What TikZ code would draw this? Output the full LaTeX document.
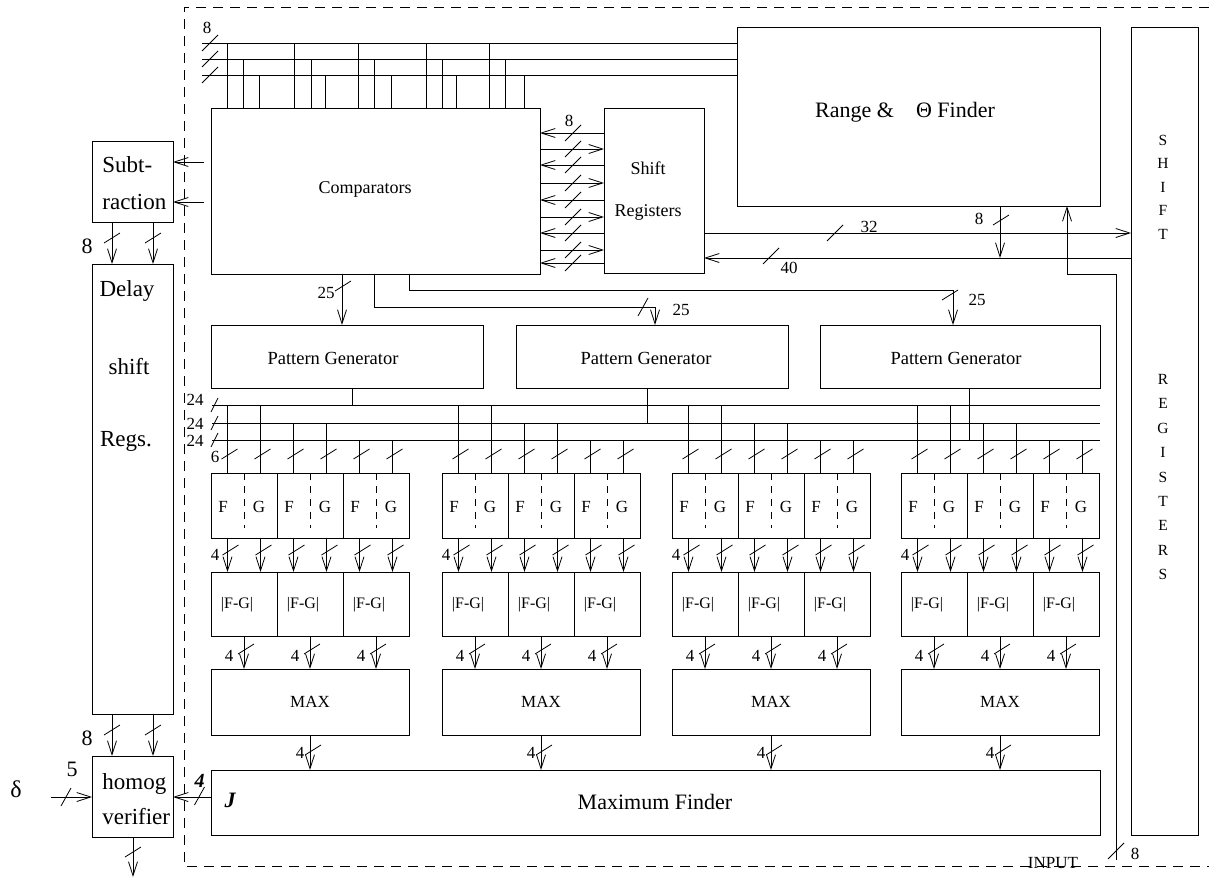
\documentclass[tikz,border=0pt]{standalone}
\usepackage{fontspec}
\setmainfont{Liberation Serif}
\usetikzlibrary{arrows.meta}
\newcommand\fs[1]{\fontsize{#1}{#1}\selectfont}
% slash on a horizontal line (45 deg)
\newcommand\hsl[2]{\draw (#1-8,#2+8) -- (#1+8,#2-8);}
% steep slash on a horizontal line
\newcommand\ssl[2]{\draw (#1-5,#2+9) -- (#1+5,#2-9);}
% slash on a vertical line
\newcommand\vsl[2]{\draw (#1-8,#2+5) -- (#1+8,#2-5);}
\newcommand\bx[5]{\node[box, minimum width={(#4)-(#2)}, minimum height={(#5)-(#3)}] (#1) at ({((#2)+(#4))/2},{((#3)+(#5))/2}) {};}
\begin{document}
\begin{tikzpicture}[x=1pt,y=-1pt, line width=0.8pt,
  box/.style={draw, rectangle, inner sep=0pt, outer sep=0pt},
  arr/.style={-{Straight Barb[length=14pt,width=9pt]}},
  lbl/.style={inner sep=0pt, font=\fs{17}},
  every node/.style={inner sep=0pt}]
\useasboundingbox (0,0) rectangle (1209,878);
% dashed frame
\draw[dash pattern=on 10pt off 7pt] (1209,7) -- (184,7) -- (184,866) -- (1209,866);

% main boxes
\bx{comp}{211}{108}{540}{274}
\bx{shreg}{604}{108}{704}{273}
\bx{range}{737}{27}{1100}{206}
\bx{srr}{1131}{27}{1198}{835}
\bx{pg1}{211}{325}{483}{388}
\bx{pg2}{516}{325}{788}{388}
\bx{pg3}{820}{325}{1100}{388}
\bx{maxf}{211}{770}{1100}{835}
\bx{sub}{92}{141}{173}{222}
\bx{delay}{92}{264}{173}{714}
\bx{homog}{92}{756}{173}{837}

% texts
\node[font=\fs{18}] (tcomp) at (365,189) {Comparators};
\node[font=\fs{18}] (tsh1) at (648,168) {Shift};
\node[font=\fs{18}] (tsh2) at (648,212) {Registers};
\node[font=\fs{22}] (trange) at (905,112) {Range \&\hspace{1em}Θ Finder};
\node[font=\fs{18.5}] (tpg1) at (333,358) {Pattern Generator};
\node[font=\fs{18.5}] (tpg2) at (646,358) {Pattern Generator};
\node[font=\fs{18.5}] (tpg3) at (956,358) {Pattern Generator};
\node[font=\fs{22}] (tmaxf) at (655,802) {Maximum Finder};
\node[font=\fs{22}\bfseries\itshape] (tJ) at (230,800) {J};
\node[font=\fs{23}, anchor=base west] (tsub1) at (102,172) {Subt-};
\node[font=\fs{23}, anchor=base west] (tsub2) at (102,209) {raction};
\node[font=\fs{23}] (tdl1) at (127,291) {Delay};
\node[font=\fs{23}] (tdl2) at (129,367) {shift};
\node[font=\fs{23}] (tdl3) at (126,441) {Regs.};
\node[font=\fs{23}, anchor=base west] (thm1) at (102,789) {homog};
\node[font=\fs{23}, anchor=base west] (thm2) at (102,824) {verifier};
\node[font=\fontsize{15.5}{23.5}\selectfont, align=center] (tsr1) at (1163,187) {S\\H\\I\\F\\T};
\node[font=\fontsize{15.5}{24.4}\selectfont, align=center] (tsr2) at (1163,477) {R\\E\\G\\I\\S\\T\\E\\R\\S};
\node[font=\fs{17}, anchor=base] (tinput) at (1053,868) {INPUT};

% top bus
\foreach \y in {43,59,75}{
  \coordinate (tb\y) at (202,\y);
  \draw (tb\y) -- (range.west |- tb\y);
  \hsl{210}{\y}
}
\node[lbl] (l8a) at (207,28) {8};
\foreach \x/\y in {227/43,243/59,259/75,294/43,311/59,325/75,358/43,374/59,391/75,426/43,442/59,456/75,489/43,505/59,524/75}
  \draw (\x,\y) -- (comp.north -| \x,0);

% comparators <-> shift registers
\foreach \y in {133,165,200,233,263}{
  \draw[arr] (shreg.west |- 0,\y) -- (comp.east |- 0,\y);
  \hsl{573}{\y}
}
\foreach \y in {149,183,217,250}{
  \draw[arr] (comp.east |- 0,\y) -- (shreg.west |- 0,\y);
  \hsl{573}{\y}
}
\node[lbl] (l8b) at (569,121) {8};

% shift registers <-> SHIFT REGISTERS
\draw[arr] (shreg.east |- 0,233) -- (srr.west |- 0,233);
\hsl{835}{233}
\node[lbl] (l32) at (869,227) {32};
\draw[arr] (srr.west |- 0,258) -- (shreg.east |- 0,258);
\hsl{771}{256}
\node[lbl] (l40) at (789,268) {40};
\coordinate (r8) at (1000,258);
\draw[arr] (range.south -| r8) -- (r8);
\vsl{1001}{220}
\node[lbl] (l8c) at (979,219) {8};
\coordinate (inp) at (1116,860);
\draw[arr] (inp) -- (1116,274) -- (1067,274) -- (range.south -| 1067,0);
\hsl{1116}{851}
\node[lbl] (l8d) at (1135,854) {8};

% comparators -> pattern generators
\draw[arr] (comp.south -| 342,0) -- (pg1.north -| 342,0);
\vsl{343}{286}
\node[lbl] (l25a) at (326,293) {25};
\draw[arr] (comp.south -| 374,0) -- (374,307) -- (655,307) -- (pg2.north -| 655,0);
\ssl{643}{307}
\node[lbl] (l25b) at (681,310) {25};
\draw[arr] (comp.south -| 409,0) -- (409,290) -- (953,290) -- (pg3.north -| 953,0);
\vsl{950}{295}
\node[lbl] (l25c) at (977,300) {25};

% pattern buses
\foreach \y in {405,423,440}{
  \coordinate (pb\y) at (212,\y);
  \draw (pb\y) -- (pg3.east |- pb\y);
  \draw (211,\y+7) -- (218,\y-7);
}
\node[lbl] (l24a) at (195,400) {24};
\node[lbl] (l24b) at (195,424) {24};
\node[lbl] (l24c) at (195,441) {24};
\draw (pg1.south -| 352,0) -- (352,405);
\draw (pg2.south -| 647,0) -- (647,423);
\draw (pg3.south -| 969,0) -- (969,440);
\node[lbl] (l6) at (215,457) {6};

% groups
\foreach \g/\L in {1/211,2/442,3/672,4/901}{
  \node[box, minimum width=198, minimum height=66] (mx\g) at (\L+99,702) {};
  \node[font=\fs{17}] (mt\g) at (\L+99,702) {MAX};
  \draw[arr] (mx\g.south) -- (maxf.north -| mx\g.south);
  \vsl{\L+102}{750}
  \node[lbl] (l4m\g) at (\L+89,753) {4};
  \node[lbl] (l4f\g) at (\L+4,555) {4};
  \foreach \k/\by in {0/405,1/423,2/440}{
    \pgfmathsetmacro\sx{\L+66*\k}
    \pgfmathsetmacro\xa{\sx+16.5}
    \pgfmathsetmacro\xb{\sx+49.5}
    \pgfmathsetmacro\xc{\sx+33}
    \node[box, minimum width=66, minimum height=65] (fg\g\k) at (\xc,505.5) {};
    \node[box, minimum width=66, minimum height=64] (ab\g\k) at (\xc,604) {};
    \draw[dash pattern=on 7pt off 6pt] (fg\g\k.north) -- ++(0,55);
    \node[font=\fs{17}] (fF\g\k) at (\sx+12,507) {F};
    \node[font=\fs{17}] (fG\g\k) at (\sx+48,507) {G};
    \node[font=\fs{16}] (fd\g\k) at (\sx+26,605) {|F-G|};
    \draw (\xa,\by) -- (fg\g\k.north -| \xa,0);
    \draw (\xb,\by) -- (fg\g\k.north -| \xb,0);
    \vsl{\xa+2}{454}
    \vsl{\xb+2}{454}
    \draw[arr] (fg\g\k.south -| \xa,0) -- (ab\g\k.north -| \xa,0);
    \draw[arr] (fg\g\k.south -| \xb,0) -- (ab\g\k.north -| \xb,0);
    \vsl{\xa+3}{550}
    \vsl{\xb+3}{550}
    \draw[arr] (ab\g\k.south) -- (mx\g.north -| ab\g\k.south);
    \vsl{\xc+2}{649}
    \node[lbl] (l4a\g\k) at (\xc-15,656) {4};
  }
}

% left side
\draw[arr] (204,162) -- (sub.east |- 0,162);
\draw[arr] (204,202) -- (sub.east |- 0,202);
\foreach \x in {112,153}{
  \draw[arr] (sub.south -| \x,0) -- (delay.north -| \x,0);
  \vsl{\x}{238}
  \draw[arr] (delay.south -| \x,0) -- (homog.north -| \x,0);
  \vsl{\x}{730}
}
\node[font=\fs{22}] (l8e) at (87,246) {8};
\node[font=\fs{22}] (l8f) at (87,738) {8};
\coordinate (dIn) at (51,797);
\draw[arr] (dIn) -- (homog.west |- dIn);
\ssl{66}{797}
\node[font=\fs{22}] (l5) at (72,769) {5};
\node[font=\fs{24}] (ldelta) at (16,789) {δ};
\draw[arr] (maxf.west |- dIn) -- (homog.east |- dIn);
\ssl{199.5}{796}
\node[font=\fs{20}\bfseries\itshape] (l4j) at (199.5,781) {4};
\coordinate (hOut) at (133,877);
\draw[arr] (homog.south -| hOut) -- (hOut);
\vsl{133}{852}
\end{tikzpicture}
\end{document}
